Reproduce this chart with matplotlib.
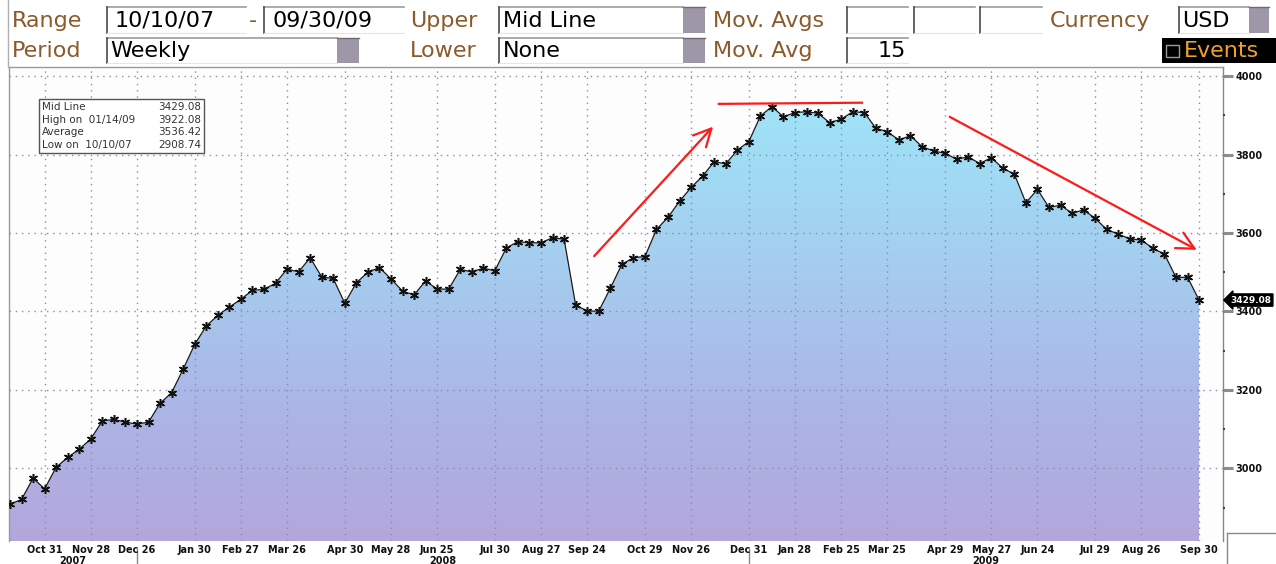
import numpy as np
import pandas as pd
import matplotlib
matplotlib.use('Agg')
import matplotlib.pyplot as plt
import matplotlib.dates as mdates
from matplotlib.colors import LinearSegmentedColormap
from matplotlib.patches import Rectangle, Polygon
from matplotlib.ticker import FixedLocator

# ---------------- data ----------------
start_date = '2007-10-10'
values = [2908.74, 2921, 2975, 2948, 3003, 3028, 3049, 3075, 3121, 3125,
          3118, 3113, 3118, 3166, 3193, 3253, 3316, 3363, 3390, 3411,
          3431, 3454, 3456, 3472, 3508, 3501, 3537, 3488, 3484, 3421,
          3473, 3500, 3512, 3483, 3452, 3442, 3478, 3457, 3457, 3507,
          3501, 3510, 3504, 3562, 3578, 3575, 3575, 3588, 3584, 3416,
          3401, 3401, 3459, 3520, 3537, 3540, 3609, 3640, 3681, 3716,
          3745, 3782, 3776, 3811, 3833, 3898, 3922.08, 3896, 3907, 3909,
          3905, 3881, 3890, 3909, 3907, 3867, 3858, 3837, 3848, 3820,
          3809, 3803, 3788, 3794, 3777, 3792, 3765, 3750, 3677, 3711,
          3665, 3671, 3650, 3659, 3637, 3609, 3597, 3585, 3582, 3561,
          3546, 3487, 3487, 3429.08]

tick_dates = ['2007-10-31', '2007-11-28', '2007-12-26', '2008-01-30', '2008-02-27',
              '2008-03-26', '2008-04-30', '2008-05-28', '2008-06-25', '2008-07-30',
              '2008-08-27', '2008-09-24', '2008-10-29', '2008-11-26', '2008-12-31',
              '2009-01-28', '2009-02-25', '2009-03-25', '2009-04-29', '2009-05-27',
              '2009-06-24', '2009-07-29', '2009-08-26', '2009-09-30']
tick_labels = ['Oct 31', 'Nov 28', 'Dec 26', 'Jan 30', 'Feb 27', 'Mar 26', 'Apr 30',
               'May 28', 'Jun 25', 'Jul 30', 'Aug 27', 'Sep 24', 'Oct 29', 'Nov 26',
               'Dec 31', 'Jan 28', 'Feb 25', 'Mar 25', 'Apr 29', 'May 27', 'Jun 24',
               'Jul 29', 'Aug 26', 'Sep 30']
year_labels = ['2007', '2008', '2009']
y_ticks = [3000, 3200, 3400, 3600, 3800, 4000]
y_minor = [2900, 3100, 3300, 3500, 3700, 3900]

stats_labels = ['Mid Line', 'High on  01/14/09', 'Average', 'Low on  10/10/07']
stats_values = ['3429.08', '3922.08', '3536.42', '2908.74']

# red hand-drawn annotations (week index, value)
red_arrows = [((50.6, 3541), (60.9, 3871)), ((81.4, 3896), (102.8, 3557))]
red_line = ((61.4, 3929), (73.8, 3932))

# ---------------- figure ----------------
W, H = 1276, 564
fig = plt.figure(figsize=(W / 100, H / 100), dpi=100, facecolor='white')

ax_l, ax_r, ax_t, ax_b = 8.5, 1223, 67, 541
ax = fig.add_axes([ax_l / W, (H - ax_b) / H, (ax_r - ax_l) / W, (ax_b - ax_t) / H])
ax.set_facecolor('#fdfdfd')

dates = pd.date_range(start_date, periods=len(values), freq='7D')
x = mdates.date2num(dates)
y = np.array(values, dtype=float)
x0 = x[0]
xlim = (x0 - 0.9, x0 + 735.5)
ylim = (2815, 4023)

# gradient fill under the line
cmap = LinearSegmentedColormap.from_list('fillgrad', [
    (0.0, '#b3a7dc'), (0.3, '#abb7e7'), (0.62, '#a4d0f0'), (0.9, '#9fe2f7'), (1.0, '#9ee6fa')])
grad = np.linspace(0, 1, 256).reshape(-1, 1)
im = ax.imshow(grad, extent=[xlim[0], xlim[1], ylim[0], ylim[1]], origin='lower',
               aspect='auto', cmap=cmap, zorder=1, interpolation='bilinear')
poly = Polygon(np.column_stack([np.r_[x[0], x, x[-1]], np.r_[ylim[0], y, ylim[0]]]),
               closed=True, facecolor='none', edgecolor='none', transform=ax.transData)
ax.add_patch(poly)
im.set_clip_path(poly)

ax.plot(x, y, color='#1a1a1a', lw=0.9, marker=(6, 2, 0), ms=6.5, mew=1.1,
        mec='#111111', zorder=4)

ax.set_xlim(*xlim)
ax.set_ylim(*ylim)

# x ticks
tick_pos = mdates.date2num(pd.to_datetime(tick_dates))
ax.xaxis.set_major_locator(FixedLocator(tick_pos))
ax.set_xticklabels(tick_labels, fontsize=7, fontweight='bold', color='#111111')
ax.tick_params(axis='x', length=0, pad=3)

# y ticks right
ax.yaxis.tick_right()
ax.set_yticks(y_ticks)
ax.set_yticklabels([str(t) for t in y_ticks], fontsize=7, fontweight='bold', color='#111111')
ax.yaxis.set_minor_locator(FixedLocator(y_minor))
ax.tick_params(axis='y', which='major', length=7, width=2.2, color='#8c8c8c', pad=2)
ax.tick_params(axis='y', which='minor', length=1.5, width=1.5, color='#444444')

ax.grid(True, which='major', axis='both', color='#8a8ab0', linestyle=(0, (1, 3.5)), lw=1.0, zorder=2)
ax.set_axisbelow(False)
for gl in ax.get_xgridlines() + ax.get_ygridlines():
    gl.set_zorder(2)

for s in ['left', 'top']:
    ax.spines[s].set_color('#9a9a9a')
    ax.spines[s].set_linewidth(1)
ax.spines['right'].set_color('#888888')
ax.spines['right'].set_linewidth(1)
ax.spines['bottom'].set_visible(False)

# red annotations
def wk(i):
    return x0 + 7 * i

for (s, e) in red_arrows:
    ax.annotate('', xy=(wk(e[0]), e[1]), xytext=(wk(s[0]), s[1]),
                arrowprops=dict(arrowstyle='->,head_length=0.9,head_width=0.45',
                                color='#ff1a1a', lw=1.6, mutation_scale=14,
                                shrinkA=0, shrinkB=0), zorder=6)
ax.plot([wk(red_line[0][0]), wk(red_line[1][0])], [red_line[0][1], red_line[1][1]],
        color='#ff1a1a', lw=1.6, zorder=6)

# price flag on right axis
ax.text(1.006, y[-1], f'{y[-1]:.2f}', transform=ax.get_yaxis_transform(),
        ha='left', va='center', color='white', fontsize=6.5, fontweight='bold',
        bbox=dict(boxstyle='larrow,pad=0.18', fc='black', ec='black'),
        clip_on=False, zorder=10)

# year labels and separators
year_bounds = [xlim[0], tick_pos[2], tick_pos[14], xlim[1]]
for i, yl in enumerate(year_labels):
    xm = (year_bounds[i] + year_bounds[i + 1]) / 2
    ax.text(xm, -0.042, yl, transform=ax.get_xaxis_transform(), ha='center', va='center',
            fontsize=7, fontweight='bold', color='#111111')
for b in year_bounds[1:3]:
    ax.plot([b, b], [-0.016, -0.048], transform=ax.get_xaxis_transform(),
            color='#888888', lw=1, clip_on=False)

# ---------------- overlay in pixel coords ----------------
ov = fig.add_axes([0, 0, 1, 1])
ov.set_xlim(0, W)
ov.set_ylim(H, 0)
ov.axis('off')
ov.patch.set_visible(False)

LBL = '#8b5a2b'
FS = 16


def field(xa, xb, ya, yb):
    ov.add_patch(Rectangle((xa, ya), xb - xa, yb - ya, fc='white', ec='none'))
    ov.plot([xa, xb], [ya, ya], color='#9c9c9c', lw=1.2)
    ov.plot([xa, xa], [ya, yb], color='#4a4a4a', lw=1.2)
    ov.plot([xa, xb], [yb, yb], color='#e6e6e6', lw=0.8)


def button(xa, xb, ya, yb):
    ov.add_patch(Rectangle((xa, ya), xb - xa, yb - ya, fc='#9d97a8', ec='none'))
    ov.plot([xa, xb], [ya, ya], color='#6e6878', lw=1)


r1a, r1b, base1 = 7, 33, 27
r2a, r2b, base2 = 38, 63, 57

ov.text(12, base1, 'Range', color=LBL, fontsize=FS, va='baseline')
field(107, 246, r1a, r1b)
ov.text(115, base1, '10/10/07', color='black', fontsize=FS, va='baseline')
ov.text(249, base1, '-', color=LBL, fontsize=FS, va='baseline')
field(264, 404, r1a, r1b)
ov.text(272, base1, '09/30/09', color='black', fontsize=FS, va='baseline')
ov.text(410, base1, 'Upper', color=LBL, fontsize=FS, va='baseline')
field(499, 683, r1a, r1b)
ov.text(503, base1, 'Mid Line', color='black', fontsize=FS, va='baseline')
button(683, 705, r1a, r1b)
ov.text(713, base1, 'Mov. Avgs', color=LBL, fontsize=FS, va='baseline')
field(847, 908, r1a, r1b)
field(914, 975, r1a, r1b)
field(980, 1042, r1a, r1b)
ov.text(1050, base1, 'Currency', color=LBL, fontsize=FS, va='baseline')
field(1179, 1249, r1a, r1b)
ov.text(1182, base1, 'USD', color='black', fontsize=FS, va='baseline')
button(1249, 1269, r1a, r1b)

ov.text(12, base2, 'Period', color=LBL, fontsize=FS, va='baseline')
field(107, 337, r2a, r2b)
ov.text(110, base2, 'Weekly', color='black', fontsize=FS, va='baseline')
button(337, 359, r2a, r2b)
ov.text(410, base2, 'Lower', color=LBL, fontsize=FS, va='baseline')
field(499, 683, r2a, r2b)
ov.text(503, base2, 'None', color='black', fontsize=FS, va='baseline')
button(683, 705, r2a, r2b)
ov.text(713, base2, 'Mov. Avg', color=LBL, fontsize=FS, va='baseline')
field(847, 908, r2a, r2b)
ov.text(906, base2, '15', color='black', fontsize=FS, va='baseline', ha='right')

ov.add_patch(Rectangle((1162, r2a), W - 1162, r2b - r2a, fc='black', ec='none'))
ov.add_patch(Rectangle((1166, 45), 13, 12, fc='none', ec='#9a9a9a', lw=1))
ov.text(1184, base2, 'Events', color='#f0a030', fontsize=FS, va='baseline')

# left border of the panel
ov.plot([8, 8], [0, ax_t], color='#b0b0b0', lw=1)
# small box at bottom right
ov.plot([1227, 1227], [533, H], color='#888888', lw=1)
ov.plot([1227, W], [533, 533], color='#888888', lw=1)

# stats box
ov.add_patch(Rectangle((39, 99), 165, 54, fc='white', ec='#555555', lw=1, zorder=5))
row_y = [107, 120, 132, 145]
for lab, val, ry in zip(stats_labels, stats_values, row_y):
    ov.text(42, ry, lab, fontsize=7.5, color='#333333', va='center', ha='left', zorder=6)
    ov.text(201, ry, val, fontsize=7.5, color='#333333', va='center', ha='right', zorder=6)

fig.savefig('out.png', dpi=100, facecolor='white')
